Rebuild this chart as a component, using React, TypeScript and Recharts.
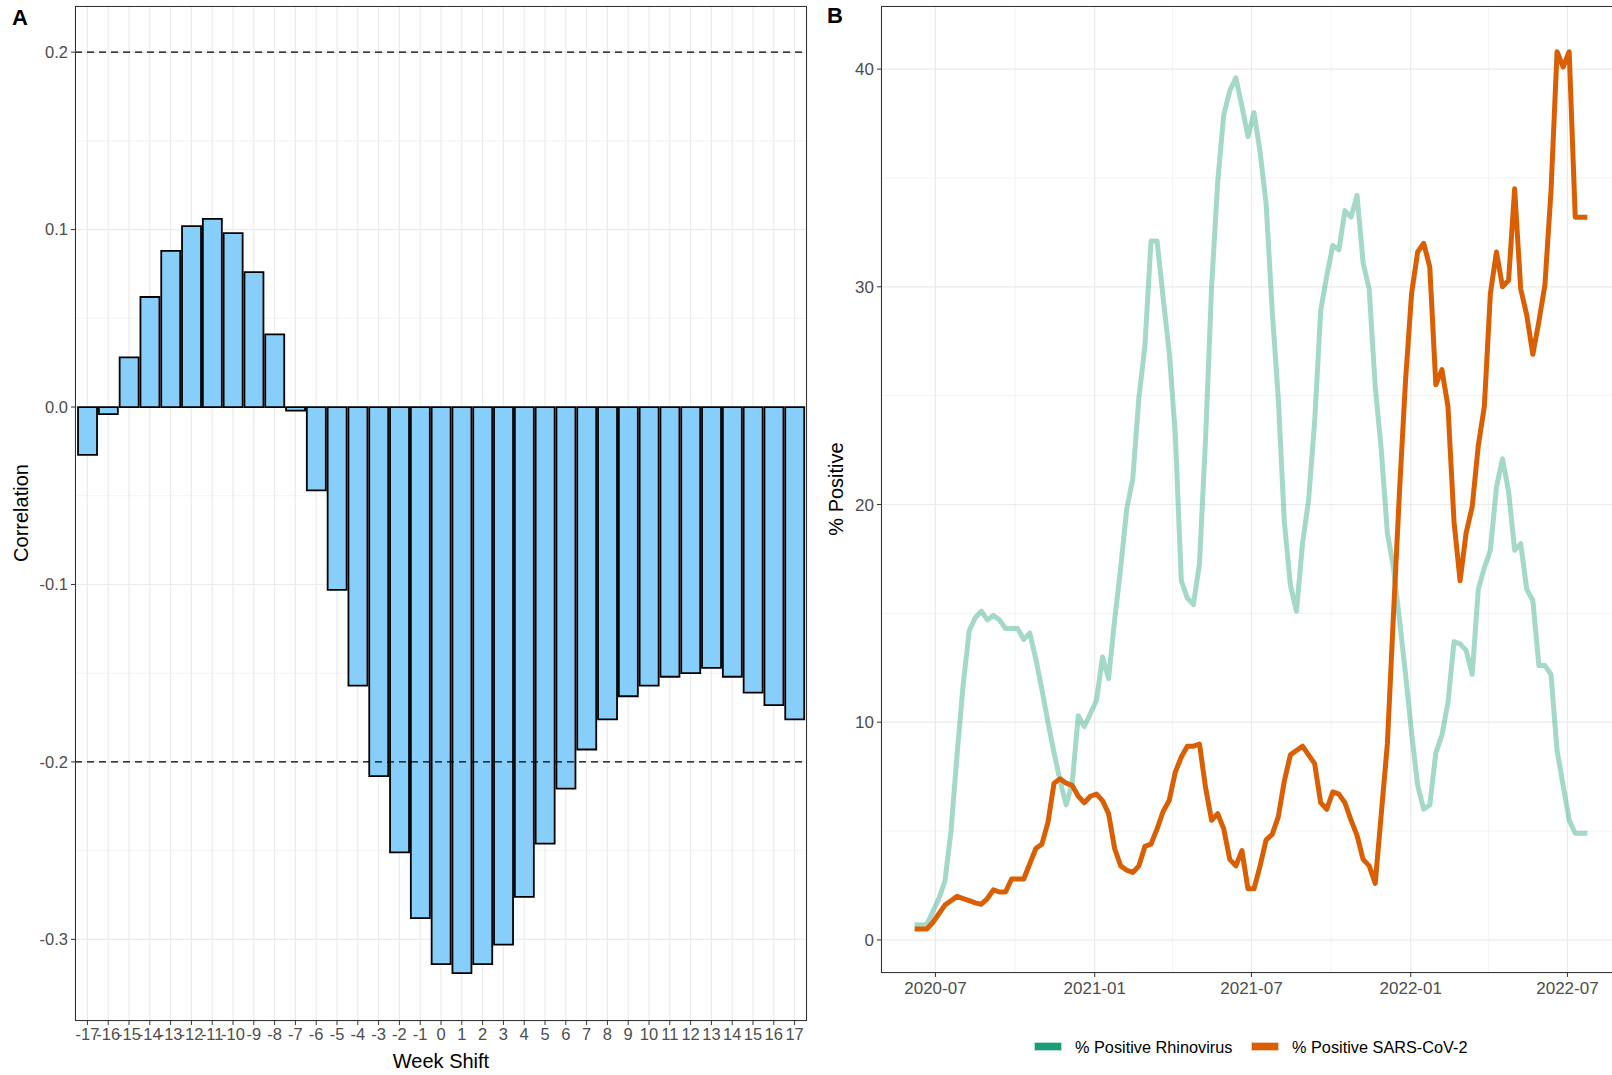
import React from "react";
import {
  BarChart,
  Bar,
  LineChart,
  Line,
  XAxis,
  YAxis,
  CartesianGrid,
  ReferenceLine,
} from "recharts";

// Panel A: cross-correlation by week shift
const WEEK_SHIFTS = [
  -17, -16, -15, -14, -13, -12, -11, -10, -9, -8, -7, -6, -5, -4, -3, -2, -1, 0,
  1, 2, 3, 4, 5, 6, 7, 8, 9, 10, 11, 12, 13, 14, 15, 16, 17,
];
const CORRELATIONS = [
  -0.027, -0.004, 0.028, 0.062, 0.088, 0.102, 0.106, 0.098, 0.076, 0.041, -0.002,
  -0.047, -0.103, -0.157, -0.208, -0.251, -0.288, -0.314, -0.319, -0.314, -0.303,
  -0.276, -0.246, -0.215, -0.193, -0.176, -0.163, -0.157, -0.152, -0.15, -0.147,
  -0.152, -0.161, -0.168, -0.176,
];
const CORR_TICKS = [-0.3, -0.2, -0.1, 0, 0.1, 0.2];
const CORR_MINOR = [-0.25, -0.15, -0.05, 0.05, 0.15];
const CORR_THRESHOLDS = [0.2, -0.2];

// Panel B: weekly % positive, first week starting 2020-06-07
const FIRST_WEEK = "2020-06-07";
const RHINO = [
  0.7, 0.7, 0.7, 1.3, 1.9, 2.7, 5.0, 8.5, 11.7, 14.2, 14.8, 15.1, 14.7, 14.9, 14.7,
  14.3, 14.3, 14.3, 13.8, 14.1, 12.9, 11.5, 10.0, 8.6, 7.3, 6.2, 7.2, 10.3, 9.8,
  10.4, 11.0, 13.0, 12.0, 14.7, 17.1, 19.8, 21.2, 24.9, 27.3, 32.1, 32.1, 29.5,
  27.0, 23.3, 16.5, 15.7, 15.4, 17.3, 23.0, 30.0, 34.8, 37.9, 39.0, 39.6, 38.3,
  36.9, 38.0, 36.2, 33.8, 28.9, 24.9, 19.2, 16.3, 15.1, 18.2, 20.2, 23.8, 28.9,
  30.5, 31.9, 31.7, 33.5, 33.2, 34.2, 31.1, 29.9, 25.4, 22.5, 18.7, 17.1, 14.7,
  12.2, 9.5, 7.1, 6.0, 6.2, 8.6, 9.4, 10.9, 13.7, 13.6, 13.3, 12.2, 16.1, 17.1,
  17.9, 20.8, 22.1, 20.6, 17.9, 18.2, 16.1, 15.6, 12.6, 12.6, 12.2, 8.7, 7.1, 5.5,
  4.9, 4.9, 4.9,
];
const SARS = [
  0.5, 0.5, 0.5, 0.8, 1.2, 1.6, 1.8, 2.0, 1.9, 1.8, 1.7, 1.64, 1.9, 2.3, 2.2, 2.2,
  2.8, 2.8, 2.8, 3.5, 4.2, 4.4, 5.4, 7.2, 7.4, 7.2, 7.1, 6.6, 6.3, 6.6, 6.7, 6.4,
  5.8, 4.2, 3.4, 3.2, 3.1, 3.4, 4.3, 4.4, 5.1, 5.9, 6.4, 7.7, 8.4, 8.9, 8.9, 9.0,
  7.0, 5.5, 5.8, 5.1, 3.7, 3.4, 4.1, 2.35, 2.35, 3.4, 4.6, 4.85, 5.65, 7.3, 8.5,
  8.7, 8.9, 8.5, 8.1, 6.3, 6.0, 6.8, 6.7, 6.3, 5.5, 4.8, 3.7, 3.4, 2.6, 5.8, 9.0,
  14.9, 20.6, 25.7, 29.7, 31.6, 32.0, 30.9, 25.5, 26.2, 24.5, 19.2, 16.5, 18.7,
  19.9, 22.7, 24.5, 29.7, 31.6, 30.0, 30.3, 34.5, 29.9, 28.7, 26.9, 28.4, 30.1,
  34.4, 40.8, 40.1, 40.8, 33.2, 33.2, 33.2,
];
const DATE_TICKS = ["2020-07-01", "2021-01-01", "2021-07-01", "2022-01-01", "2022-07-01"];
const DATE_MINOR = ["2020-10-01", "2021-04-01", "2021-10-01", "2022-04-01"];
const PCT_TICKS = [0, 10, 20, 30, 40];
const PCT_MINOR = [5, 15, 25, 35];

const FONT = '"Liberation Sans", Arial, Helvetica, sans-serif';
const TICK_GREY = "#4D4D4D";
const GRID = "#EBEBEB";
const BORDER = "#333333";
const RHINO_COL = "#1B9E77";
const SARS_COL = "#D95F02";

const DAY = 86400000;
const ts = (s: string) => Date.parse(s + "T00:00:00Z");

const corrRows = WEEK_SHIFTS.map((w, i) => ({ shift: String(w), corr: CORRELATIONS[i] }));
const weekRows = RHINO.map((r, i) => ({
  t: ts(FIRST_WEEK) + i * 7 * DAY,
  rhino: r,
  sars: SARS[i],
}));

// ggplot-style 5% expansion of the date range
const tMin = weekRows[0].t;
const tMax = weekRows[weekRows.length - 1].t;
const tPad = (tMax - tMin) * 0.05;
const X_DOMAIN = [tMin - tPad, tMax + tPad];

const fmtMonth = (v: number) => {
  const d = new Date(v);
  return `${d.getUTCFullYear()}-${String(d.getUTCMonth() + 1).padStart(2, "0")}`;
};

const tickA = { fill: TICK_GREY, fontSize: 16.5, fontFamily: FONT };
const tickB = { fill: TICK_GREY, fontSize: 17, fontFamily: FONT };
const abs = (s: React.CSSProperties): React.CSSProperties => ({ position: "absolute", ...s });

function LegendItem({ x, color, label }: { x: number; color: string; label: string }) {
  return (
    <>
      <div
        style={abs({
          left: x,
          top: 1043,
          width: 26,
          height: 7,
          background: color,
          boxShadow: `0 0 0 1px ${color}55`,
        })}
      />
      <div
        style={abs({
          left: x + 40,
          top: 1038,
          fontSize: 16.3,
          lineHeight: "18px",
          color: "#000",
          whiteSpace: "nowrap",
        })}
      >
        {label}
      </div>
    </>
  );
}

export default function App() {
  return (
    <div
      style={{
        position: "fixed",
        left: 0,
        top: 0,
        width: 1612,
        height: 1075,
        overflow: "hidden",
        background: "#fff",
        fontFamily: FONT,
      }}
    >
      {/* A */}
      <div style={abs({ left: 0, top: 0 })}>
        <BarChart
          width={820}
          height={1075}
          data={corrRows}
          margin={{ top: 6, right: 13, left: 35, bottom: 0 }}
          barCategoryGap="5%"
        >
          <CartesianGrid stroke={GRID} strokeWidth={0.6} vertical={false} horizontalValues={CORR_MINOR} />
          <CartesianGrid stroke={GRID} strokeWidth={1.2} />
          <XAxis
            dataKey="shift"
            interval={0}
            padding={{ left: 2, right: 2 }}
            height={54}
            tickSize={4}
            tickMargin={3}
            axisLine={false}
            tickLine={{ stroke: BORDER }}
            tick={tickA}
          />
          <YAxis
            type="number"
            domain={[-0.346, 0.226]}
            ticks={CORR_TICKS}
            allowDataOverflow
            width={40}
            tickSize={4}
            tickMargin={3}
            axisLine={false}
            tickLine={{ stroke: BORDER }}
            tick={tickA}
            tickFormatter={(v: number) => v.toFixed(1)}
          />
          <Bar dataKey="corr" fill="#87CEFA" stroke="#000" strokeWidth={1.8} isAnimationActive={false} />
          {CORR_THRESHOLDS.map((v) => (
            <ReferenceLine key={v} y={v} stroke="#000" strokeWidth={1.3} strokeDasharray="7 5" />
          ))}
        </BarChart>
        <div
          style={abs({
            left: 75,
            top: 6,
            width: 732,
            height: 1015,
            border: `1px solid ${BORDER}`,
            boxSizing: "border-box",
          })}
        />
      </div>

      {/* B */}
      <div style={abs({ left: 820, top: 0 })}>
        <LineChart width={810} height={1075} data={weekRows} margin={{ top: 6, right: 9, left: 21, bottom: 0 }}>
          <CartesianGrid
            stroke={GRID}
            strokeWidth={0.6}
            horizontalValues={PCT_MINOR}
            verticalValues={DATE_MINOR.map(ts)}
          />
          <CartesianGrid stroke={GRID} strokeWidth={1.2} />
          <XAxis
            type="number"
            dataKey="t"
            domain={X_DOMAIN}
            allowDataOverflow
            ticks={DATE_TICKS.map(ts)}
            tickFormatter={fmtMonth}
            height={102}
            tickSize={4}
            tickMargin={5}
            axisLine={false}
            tickLine={{ stroke: BORDER }}
            tick={tickB}
          />
          <YAxis
            type="number"
            domain={[-1.52, 42.9]}
            ticks={PCT_TICKS}
            allowDataOverflow
            width={40}
            tickSize={4}
            tickMargin={3}
            axisLine={false}
            tickLine={{ stroke: BORDER }}
            tick={tickB}
          />
          <Line
            type="linear"
            dataKey="rhino"
            stroke={RHINO_COL}
            strokeOpacity={0.4}
            strokeWidth={5}
            strokeLinejoin="round"
            dot={false}
            isAnimationActive={false}
          />
          <Line
            type="linear"
            dataKey="sars"
            stroke={SARS_COL}
            strokeWidth={5}
            strokeLinejoin="round"
            dot={false}
            isAnimationActive={false}
          />
        </LineChart>
        <div
          style={abs({
            left: 61,
            top: 6,
            width: 760,
            height: 967,
            border: `1px solid ${BORDER}`,
            boxSizing: "border-box",
          })}
        />
      </div>

      {/* titles */}
      <div style={abs({ left: 12, top: 7, fontSize: 22, fontWeight: "bold", lineHeight: 1 })}>A</div>
      <div style={abs({ left: 827, top: 5, fontSize: 22, fontWeight: "bold", lineHeight: 1 })}>B</div>
      <div
        style={abs({
          left: 21,
          top: 513,
          fontSize: 20,
          lineHeight: 1,
          whiteSpace: "nowrap",
          transform: "translate(-50%, -50%) rotate(-90deg)",
        })}
      >
        Correlation
      </div>
      <div
        style={abs({
          left: 441,
          top: 1061,
          fontSize: 20,
          lineHeight: 1,
          whiteSpace: "nowrap",
          transform: "translate(-50%, -50%)",
        })}
      >
        Week Shift
      </div>
      <div
        style={abs({
          left: 836,
          top: 489,
          fontSize: 20,
          lineHeight: 1,
          whiteSpace: "nowrap",
          transform: "translate(-50%, -50%) rotate(-90deg)",
        })}
      >
        % Positive
      </div>

      <LegendItem x={1035} color={RHINO_COL} label="% Positive Rhinovirus" />
      <LegendItem x={1252} color={SARS_COL} label="% Positive SARS-CoV-2" />
    </div>
  );
}
